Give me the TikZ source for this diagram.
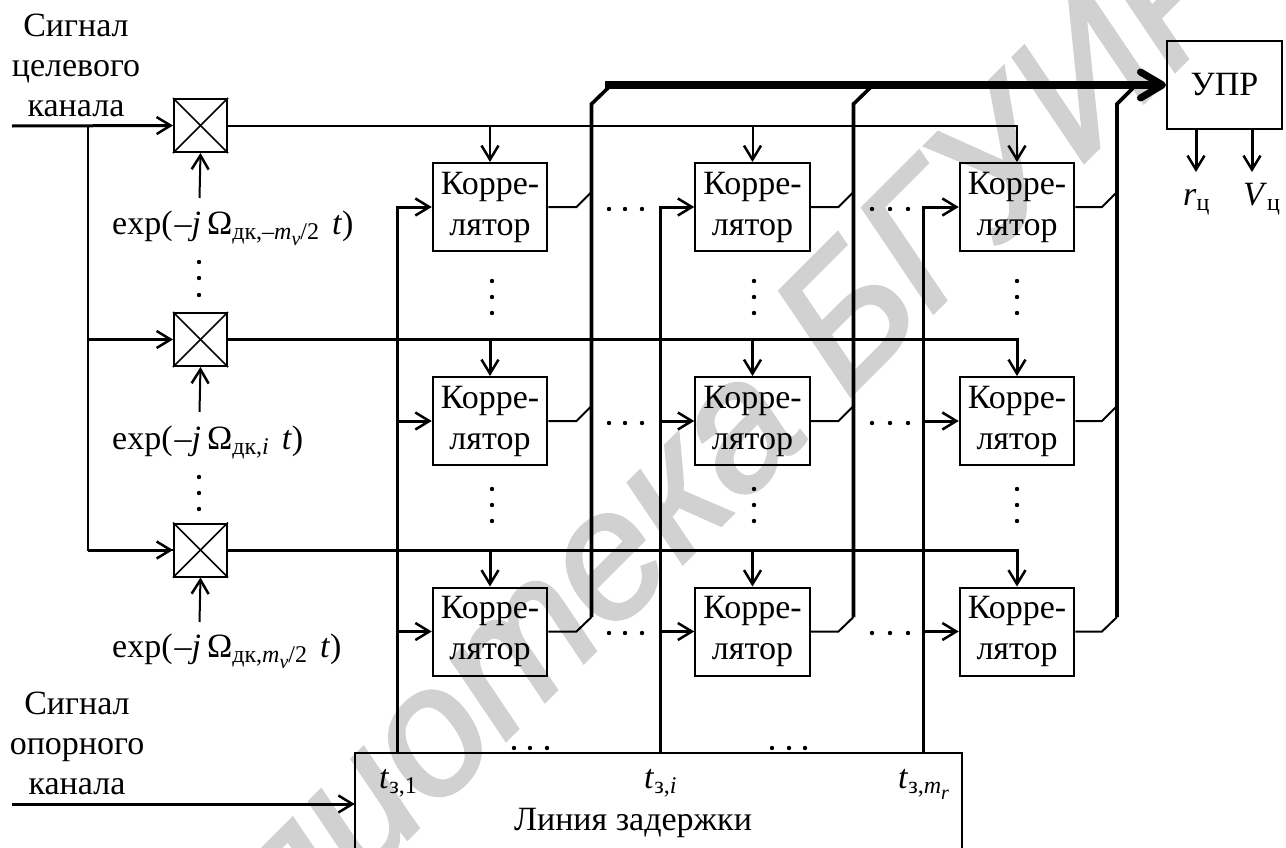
\documentclass[tikz,border=0pt]{standalone}
\usepackage{fontspec}
\setmainfont{Liberation Serif}
\newfontfamily\wmfont{Liberation Sans}[ItalicFeatures={FakeBold=2}]
\usetikzlibrary{arrows.meta,calc}
\newcommand{\bigtext}{\fontsize{34bp}{41bp}\selectfont}
\newcommand{\lo}[1]{\raisebox{-5.5bp}{\fontsize{24bp}{24bp}\selectfont #1}}
\newcommand{\lolo}[1]{\raisebox{-6bp}{\fontsize{20bp}{20bp}\selectfont #1}}
\newcommand{\expstart}{exp(\kern2bp–\textit{j}\kern6bpΩ}
\tikzset{
  thinline/.style={line width=2bp,black},
  midline/.style={line width=3bp,black},
  heavyline/.style={line width=3.6bp,black,line join=miter},
  arr/.style={-{Straight Barb[length=14bp,width=17bp,line width=2.5bp]}},
  boxnode/.style={draw,line width=2bp,inner sep=0pt,align=center,font=\bigtext},
  corr/.style={boxnode,minimum width=114.5bp,minimum height=88bp},
  mixer/.style={boxnode,minimum width=53bp,minimum height=53bp},
  lab/.style={inner sep=0pt,font=\bigtext,align=center},
  dotmark/.style={black},
}
\begin{document}
\begin{tikzpicture}[x=1bp,y=-1bp]
\useasboundingbox (0,0) rectangle (1286,848);
\fill[white] (0,0) rectangle (1286,848);
% watermark
\node[inner sep=0pt,rotate=45,anchor=base west,text=black!18] (wm) at (68,1178) {\wmfont\itshape\fontsize{180bp}{180bp}\selectfont Библиотека БГУИР};

% mixers
\node[mixer] (m1) at (200.5,125.5) {};
\node[mixer] (m2) at (200.5,339.5) {};
\node[mixer] (m3) at (200.5,550) {};
\foreach \m in {m1,m2,m3}{
  \draw[line width=1.5bp] (\m.north west) -- (\m.south east);
  \draw[line width=1.5bp] (\m.north east) -- (\m.south west);
}
% correlators
\foreach \r/\yy in {1/207,2/421,3/631.5}{
  \foreach \c/\xx in {1/490,2/752.5,3/1017}{
    \node[corr] (c\r\c) at (\xx,\yy) {Корре-\\лятор};
  }
}
% control block and delay line
\node[boxnode,minimum width=115bp,minimum height=88bp] (upr) at (1224.5,85) {УПР};
\node[inner sep=0pt,minimum width=607bp,minimum height=95bp] (delay) at (658.5,800.5) {};
\draw[line width=2bp] (delay.south west) -- (delay.north west) -- (delay.north east) -- (delay.south east);
\node[lab] (dname) at (633,823) {Линия задержки};
\node[lab,anchor=base west] (t1) at (379,788) {\textit{t}\lo{з,1}};
\node[lab,anchor=base west] (t2) at (644,788) {\textit{t}\lo{з,\textit{i}}};
\node[lab,anchor=base west] (t3) at (898,788) {\textit{t}\lo{з,\textit{m}\lolo{\textit{r}}}};

% text labels
\node[lab] (s1) at (76,65) {Сигнал\\[-1bp]целевого\\[-1bp]канала};
\node[lab] (s2) at (77,743) {Сигнал\\[-1bp]опорного\\[-1bp]канала};
\node[lab,anchor=base west] (e1) at (112,234) {\expstart\lo{дк,–\textit{m}\lolo{\textit{ν}}/2}\kern13bp\textit{t})};
\node[lab,anchor=base west] (e2) at (112,449) {\expstart\lo{дк,\textit{i}}\kern13bp\textit{t})};
\node[lab,anchor=base west] (e3) at (112,657) {\expstart\lo{дк,\textit{m}\lolo{\textit{ν}}/2}\kern13bp\textit{t})};
\node[lab,anchor=base west] (rc) at (1183,205) {\textit{r}\lo{ц}};
\node[lab,anchor=base west] (vc) at (1243,205) {\textit{V}\lo{ц}};

% inputs
\coordinate (in1) at (12,126);
\coordinate (in2) at (12,804);
\coordinate (b1) at (88,126);
\draw[midline,arr] (in1) -- (m1.west);
\draw[thinline] (b1) |- (m3.west);
\draw[midline,arr] (b1 |- m2.west) -- (m2.west);
\draw[midline,arr] (b1 |- m3.west) -- (m3.west);
\draw[midline,arr] (in2) -- (in2 -| delay.west);

% exp arrows
\draw[thinline,arr] (199.5,198) -- (m1.south);
\draw[thinline,arr] (199.5,412) -- (m2.south);
\draw[thinline,arr] (199.5,622) -- (m3.south);

% mixer outputs
\draw[thinline,arr] (m1.east) -| (c13.north);
\draw[midline,arr] (m2.east) -| (c23.north);
\draw[midline,arr] (m3.east) -| (c33.north);
\foreach \c in {1,2}{
  \draw[thinline,arr] (m1.east -| c1\c.north) -- (c1\c.north);
  \draw[midline,arr] (m2.east -| c2\c.north) -- (c2\c.north);
  \draw[midline,arr] (m3.east -| c3\c.north) -- (c3\c.north);
}

% delay taps
\coordinate (d1) at (397,753);
\coordinate (d2) at (660,753);
\coordinate (d3) at (923.5,753);
\foreach \c/\d in {1/d1,2/d2,3/d3}{
  \draw[midline,arr] (\d) |- (c1\c.west);
  \draw[midline,arr] (\d |- c2\c.west) -- (c2\c.west);
  \draw[midline,arr] (\d |- c3\c.west) -- (c3\c.west);
}

% correlator outputs
\foreach \c/\vx/\bx in {1/591.5/608,2/853.5/870,3/1117/1133}{
  \coordinate (vt\c) at (\vx,104);
  \coordinate (vb\c) at (\vx,617);
  \coordinate (bt\c) at (\bx,88);
  \draw[thinline] (c1\c.east) -- ($(c1\c.east -| vt\c)+(-15,0)$) -- ($(c1\c.east -| vt\c)+(0,-15)$);
  \draw[thinline] (c2\c.east) -- ($(c2\c.east -| vt\c)+(-15,0)$) -- ($(c2\c.east -| vt\c)+(0,-15)$);
  \draw[thinline] (c3\c.east) -- ($(c3\c.east -| vt\c)+(-15,0)$) -- (vb\c);
  \draw[heavyline] (vb\c) -- (vt\c) -- (bt\c);
}
% bus
\coordinate (busstart) at (605,85);
\draw[line width=7.5bp,-{Straight Barb[length=22bp,width=26bp,line width=7bp,round]}] (busstart) -- (upr.west);

% outputs of the control block
\coordinate (r1) at (1196,172);
\coordinate (r2) at (1252,172);
\draw[midline,arr] (upr.south -| r1) -- (r1);
\draw[midline,arr] (upr.south -| r2) -- (r2);

% dots
\foreach \x/\y in {199/262,199/278,199/295,199/477,199/493,199/509,
  492/281,492/297,492/313,492/489,492/505,492/521,
  754/281,754/297,754/313,754/489,754/505,754/521,
  1017/281,1017/297,1017/313,1017/489,1017/505,1017/521,
  609/209,625/209,642/209,872/209,890/209,908/209,
  609/423,625/423,642/423,872/423,890/423,908/423,
  609/633,625/633,642/633,872/633,890/633,908/633,
  514/748,530/748,547/748,772/748,789/748,805/748}{
  \fill[dotmark] (\x,\y) circle (2.2bp);
}
\end{tikzpicture}
\end{document}
